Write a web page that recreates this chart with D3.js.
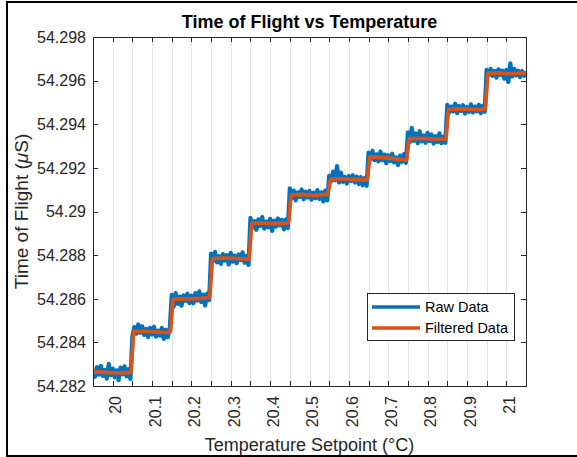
<!DOCTYPE html>
<html>
<head>
<meta charset="utf-8">
<script src="https://cdn.jsdelivr.net/npm/d3@7"></script>
<style>
  body { margin: 0; background: #fff; }
  text { font-family: "Liberation Sans", Arial, Helvetica, sans-serif; }
</style>
</head>
<body>
<div id="content"></div>
<script>
// raw samples, one every 0.005 degC starting at 19.95
var rawStart = 19.95,
  rawStep = 0.005;

var rawTof = [
  54.2827, 54.28242, 54.28287, 54.28252, 54.28292, 54.28247, 54.28274, 54.28234, 54.28302, 54.2825,
  54.2828, 54.2824, 54.28272, 54.28227, 54.28284, 54.28254, 54.2829, 54.28244, 54.28277, 54.28232,
  54.28427, 54.2847, 54.2844, 54.28482, 54.28444, 54.28474, 54.28434, 54.28462, 54.28424, 54.28467,
  54.28436, 54.28472, 54.28426, 54.28454, 54.28431, 54.28466, 54.28416, 54.28458, 54.28424, 54.28462,
  54.28618, 54.28563, 54.28626, 54.28576, 54.2861, 54.28568, 54.28616, 54.2859, 54.28623, 54.2858,
  54.28614, 54.28579, 54.28626, 54.28592, 54.28634, 54.28584, 54.28619, 54.28569, 54.28624, 54.28594,
  54.28807, 54.28773, 54.28815, 54.28767, 54.28795, 54.2876, 54.28805, 54.28775, 54.288, 54.28757,
  54.2881, 54.2877, 54.28797, 54.28763, 54.28803, 54.28777, 54.28813, 54.28765, 54.28795, 54.28755,
  54.28971, 54.28926, 54.28956, 54.28916, 54.28964, 54.28934, 54.28974, 54.28921, 54.28954, 54.28928,
  54.28966, 54.28911, 54.28958, 54.28931, 54.28968, 54.28936, 54.28961, 54.28918, 54.28964, 54.28924,
  54.29106, 54.29061, 54.29096, 54.29051, 54.29088, 54.29066, 54.29101, 54.29056, 54.29091, 54.29064,
  54.29094, 54.29054, 54.29086, 54.29061, 54.29098, 54.29058, 54.29088, 54.29046, 54.29096, 54.29051,
  54.29163, 54.29138, 54.29183, 54.29143, 54.29208, 54.29133, 54.29178, 54.29136, 54.29158, 54.29128,
  54.29163, 54.2914, 54.29166, 54.29133, 54.2916, 54.29126, 54.29158, 54.2912, 54.29153, 54.29118,
  54.2927, 54.2924, 54.29278, 54.29235, 54.29262, 54.2923, 54.29275, 54.29235, 54.29261, 54.29221,
  54.29258, 54.29231, 54.29265, 54.29225, 54.29248, 54.29213, 54.29256, 54.29228, 54.29263, 54.29223,
  54.29363, 54.29318, 54.29383, 54.29323, 54.29358, 54.29313, 54.29368, 54.29321, 54.29348, 54.29315,
  54.29361, 54.29323, 54.29353, 54.29311, 54.29345, 54.29318, 54.29358, 54.29313, 54.29343, 54.29315,
  54.29489, 54.29454, 54.29481, 54.29459, 54.29494, 54.29451, 54.29484, 54.29461, 54.29487, 54.29449,
  54.29479, 54.29457, 54.29491, 54.29454, 54.29481, 54.29459, 54.29489, 54.29451, 54.29484, 54.29457,
  54.29649, 54.29624, 54.29654, 54.29622, 54.29644, 54.29614, 54.29652, 54.29626, 54.29646, 54.29609,
  54.29649, 54.29594, 54.29679, 54.29619, 54.29654, 54.29624, 54.29646, 54.29616, 54.29644, 54.29622,
  54.29642
];

var filteredX = [
  19.95, 19.98, 20.01, 20.03, 20.046, 20.05, 20.054, 20.08, 20.11, 20.13, 20.146,
  20.15, 20.154, 20.18, 20.21, 20.23, 20.246, 20.25, 20.254, 20.28, 20.31, 20.33, 20.346,
  20.35, 20.354, 20.38, 20.41, 20.43, 20.446, 20.45, 20.454, 20.48, 20.51, 20.53, 20.546,
  20.55, 20.554, 20.58, 20.61, 20.63, 20.646, 20.65, 20.654, 20.68, 20.71, 20.73, 20.746,
  20.75, 20.754, 20.78, 20.81, 20.83, 20.846, 20.85, 20.854, 20.88, 20.91, 20.93, 20.946,
  20.95, 20.954, 20.98, 21.01, 21.03, 21.05
];
var filteredTof = [
  54.28265, 54.28263, 54.2826, 54.28261, 54.28263, 54.28356, 54.28452, 54.2845, 54.28448, 54.28446, 54.28447,
  54.28523, 54.28598, 54.28599, 54.286, 54.28603, 54.28606, 54.28695, 54.28784, 54.28786, 54.28785, 54.28783, 54.28782,
  54.28864, 54.28946, 54.28947, 54.28945, 54.28946, 54.28948, 54.29012, 54.29076, 54.29078, 54.29074, 54.29077, 54.29078,
  54.29113, 54.29148, 54.2915, 54.29147, 54.29146, 54.29144, 54.29197, 54.29251, 54.29248, 54.29243, 54.29238, 54.29236,
  54.29285, 54.29334, 54.29335, 54.29333, 54.29332, 54.29333, 54.29401, 54.29469, 54.2947, 54.29468, 54.29467, 54.29469,
  54.29552, 54.29634, 54.29635, 54.29632, 54.29634, 54.29635
];

var xTicks = [20, 20.05, 20.1, 20.15, 20.2, 20.25, 20.3, 20.35, 20.4, 20.45, 20.5,
  20.55, 20.6, 20.65, 20.7, 20.75, 20.8, 20.85, 20.9, 20.95, 21];
var xTickLabels = ["20", "", "20.1", "", "20.2", "", "20.3", "", "20.4", "", "20.5",
  "", "20.6", "", "20.7", "", "20.8", "", "20.9", "", "21"];
var yTicks = [54.282, 54.284, 54.286, 54.288, 54.29, 54.292, 54.294, 54.296, 54.298];
var yTickLabels = ["54.282", "54.284", "54.286", "54.288", "54.29", "54.292", "54.294", "54.296", "54.298"];

var seriesNames = ["Raw Data", "Filtered Data"];
var seriesColors = ["#0072BD", "#D95319"];

var W = 577,
  H = 457,
  plotLeft = 93,
  plotRight = 526,
  plotTop = 37,
  plotBottom = 386,
  axisColor = "#262626";

var svg = d3
  .select("#content")
  .append("svg")
  .attr("width", W)
  .attr("height", H);

// figure frame (right edge is off the picture)
svg
  .append("rect")
  .attr("x", 7)
  .attr("y", 2)
  .attr("width", W + 10)
  .attr("height", 454)
  .attr("fill", "#fff")
  .attr("stroke", "#000")
  .attr("stroke-width", 2);

var x = d3.scaleLinear().domain([19.95, 21.05]).range([plotLeft, plotRight]);
var y = d3.scaleLinear().domain([54.282, 54.298]).range([plotBottom, plotTop]);

svg
  .append("defs")
  .append("clipPath")
  .attr("id", "plotclip")
  .append("rect")
  .attr("x", plotLeft)
  .attr("y", plotTop)
  .attr("width", plotRight - plotLeft)
  .attr("height", plotBottom - plotTop);

// grid
svg
  .append("g")
  .selectAll("line")
  .data(xTicks)
  .enter()
  .append("line")
  .attr("x1", function (d) { return Math.round(x(d)) + 0.5; })
  .attr("x2", function (d) { return Math.round(x(d)) + 0.5; })
  .attr("y1", plotTop)
  .attr("y2", plotBottom)
  .attr("stroke", "#e4e4e4")
  .attr("stroke-width", 1);

var plot = svg.append("g").attr("clip-path", "url(#plotclip)");

var rawLine = d3
  .line()
  .x(function (d, i) { return x(rawStart + i * rawStep); })
  .y(function (d) { return y(d); });

plot
  .append("path")
  .datum(rawTof)
  .attr("d", rawLine)
  .attr("fill", "none")
  .attr("stroke", seriesColors[0])
  .attr("stroke-width", 4.2)
  .attr("stroke-linejoin", "round");

var filtLine = d3
  .line()
  .curve(d3.curveMonotoneX)
  .x(function (d, i) { return x(filteredX[i]); })
  .y(function (d) { return y(d); });

plot
  .append("path")
  .datum(filteredTof)
  .attr("d", filtLine)
  .attr("fill", "none")
  .attr("stroke", seriesColors[1])
  .attr("stroke-width", 3.8)
  .attr("stroke-linejoin", "round");

// axes box + ticks (inside, on all four sides)
var ax = svg.append("g").attr("stroke", axisColor).attr("stroke-width", 1);

ax.append("rect")
  .attr("x", plotLeft + 0.5)
  .attr("y", plotTop + 0.5)
  .attr("width", plotRight - plotLeft)
  .attr("height", plotBottom - plotTop)
  .attr("fill", "none");

xTicks.forEach(function (t) {
  var px = Math.round(x(t)) + 0.5;
  ax.append("line").attr("x1", px).attr("x2", px).attr("y1", plotBottom).attr("y2", plotBottom - 5);
  ax.append("line").attr("x1", px).attr("x2", px).attr("y1", plotTop).attr("y2", plotTop + 5);
});
yTicks.forEach(function (t) {
  var py = Math.round(y(t)) + 0.5;
  ax.append("line").attr("x1", plotLeft).attr("x2", plotLeft + 5).attr("y1", py).attr("y2", py);
  ax.append("line").attr("x1", plotRight).attr("x2", plotRight - 5).attr("y1", py).attr("y2", py);
});

// tick labels
svg
  .append("g")
  .selectAll("text")
  .data(yTicks)
  .enter()
  .append("text")
  .attr("x", 86)
  .attr("y", function (d) { return y(d); })
  .attr("dy", "0.36em")
  .attr("text-anchor", "end")
  .attr("fill", axisColor)
  .style("font-size", "16px")
  .text(function (d, i) { return yTickLabels[i]; });

svg
  .append("g")
  .selectAll("text")
  .data(xTicks)
  .enter()
  .append("text")
  .attr("transform", function (d) {
    return "translate(" + (x(d) + 3) + ",396) rotate(-90)";
  })
  .attr("dy", "0.36em")
  .attr("text-anchor", "end")
  .attr("fill", axisColor)
  .style("font-size", "16px")
  .text(function (d, i) { return xTickLabels[i]; });

// title and axis labels
svg
  .append("text")
  .attr("x", (plotLeft + plotRight) / 2)
  .attr("y", 28)
  .attr("text-anchor", "middle")
  .attr("fill", "#000")
  .style("font-size", "18px")
  .style("font-weight", "bold")
  .text("Time of Flight vs Temperature");

svg
  .append("text")
  .attr("x", (plotLeft + plotRight) / 2)
  .attr("y", 451)
  .attr("text-anchor", "middle")
  .attr("fill", axisColor)
  .style("font-size", "18px")
  .text("Temperature Setpoint (°C)");

var ylab = svg
  .append("text")
  .attr("transform", "translate(28," + (plotTop + plotBottom) / 2 + ") rotate(-90)")
  .attr("text-anchor", "middle")
  .attr("fill", axisColor)
  .style("font-size", "19px");
ylab.append("tspan").text("Time of Flight (");
ylab.append("tspan").style("font-style", "italic").text("\u03BC");
ylab.append("tspan").text("S)");

// legend
var legend = svg.append("g");
legend
  .append("rect")
  .attr("x", 367.5)
  .attr("y", 293.5)
  .attr("width", 147)
  .attr("height", 47)
  .attr("fill", "#fff")
  .attr("stroke", axisColor)
  .attr("stroke-width", 1);

seriesNames.forEach(function (name, i) {
  var ly = 307 + i * 21;
  legend
    .append("line")
    .attr("x1", 372)
    .attr("x2", 420)
    .attr("y1", ly)
    .attr("y2", ly)
    .attr("stroke", seriesColors[i])
    .attr("stroke-width", 3.3);
  legend
    .append("text")
    .attr("x", 425)
    .attr("y", ly)
    .attr("dy", "0.36em")
    .attr("fill", "#000")
    .style("font-size", "14.5px")
    .text(name);
});
</script>
</body>
</html>
